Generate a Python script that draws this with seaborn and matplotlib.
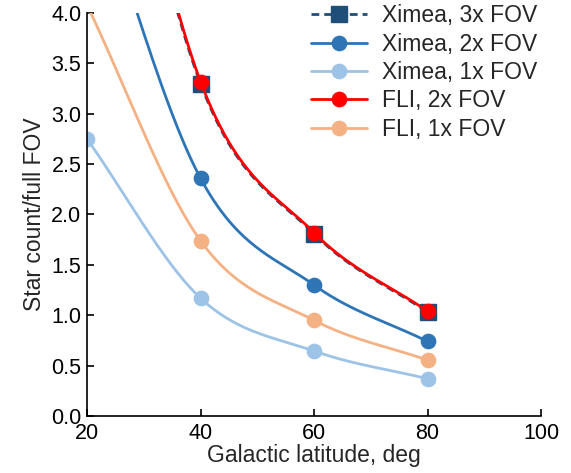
import numpy as np
import pandas as pd
import matplotlib
matplotlib.use("Agg")
import matplotlib.pyplot as plt
from matplotlib.lines import Line2D
from matplotlib.ticker import FormatStrFormatter
import seaborn as sns

# Data
latitude = [20, 40, 60, 80]
ximea_3x = [7.75, 3.30, 1.81, 1.03]
ximea_2x = [5.50, 2.36, 1.30, 0.74]
ximea_1x = [2.75, 1.17, 0.645, 0.37]
fli_2x = [7.80, 3.32, 1.82, 1.04]
fli_1x = [4.08, 1.74, 0.95, 0.555]

labels = ["Ximea, 3x FOV", "Ximea, 2x FOV", "Ximea, 1x FOV", "FLI, 2x FOV", "FLI, 1x FOV"]
series = [ximea_3x, ximea_2x, ximea_1x, fli_2x, fli_1x]
colors = ["#1f4e79", "#2e75b6", "#9dc3e6", "#ff0000", "#f4b183"]
markers = ["s", "o", "o", "o", "o"]
msizes = [11.3, 10.3, 10.3, 10.3, 10.3]
dashes = [(2.8, 1.8), None, None, None, None]


def smooth_curve(x, y, n=60):
    x = np.asarray(x, float)
    y = np.asarray(y, float)
    m = np.zeros_like(y)
    m[0] = (y[1] - y[0]) / (x[1] - x[0])
    m[-1] = (y[-1] - y[-2]) / (x[-1] - x[-2])
    for i in range(1, len(x) - 1):
        m[i] = (y[i + 1] - y[i - 1]) / (x[i + 1] - x[i - 1])
    xs, ys = [], []
    for i in range(len(x) - 1):
        h = x[i + 1] - x[i]
        t = np.linspace(0, 1, n, endpoint=(i == len(x) - 2))
        h00 = (1 + 2 * t) * (1 - t) ** 2
        h10 = t * (1 - t) ** 2
        h01 = t ** 2 * (3 - 2 * t)
        h11 = t ** 2 * (t - 1)
        xs.append(x[i] + t * h)
        ys.append(h00 * y[i] + h10 * h * m[i] + h01 * y[i + 1] + h11 * h * m[i + 1])
    return np.concatenate(xs), np.concatenate(ys)


sns.set_style("ticks")
plt.rcParams["font.family"] = ["Liberation Sans", "DejaVu Sans"]

fig = plt.figure(figsize=(5.71, 4.73), dpi=100)
ax = fig.add_axes([87 / 571, 1 - 416 / 473, (541 - 87) / 571, (416 - 13) / 473])

LW = 2.0
handles = []
for lab, ys, c, mk, ms, ds in zip(labels, series, colors, markers, msizes, dashes):
    sx, sy = smooth_curve(latitude, ys)
    df = pd.DataFrame({"x": sx, "y": sy})
    sns.lineplot(data=df, x="x", y="y", ax=ax, color=c, linewidth=LW,
                 sort=False, estimator=None, legend=False)
    line = ax.lines[-1]
    if ds is not None:
        line.set_dashes(ds)
    ax.plot(latitude, ys, linestyle="none", marker=mk, markersize=ms, color=c,
            markeredgecolor=c)
    h = Line2D([0], [0], color=c, linewidth=LW, marker=mk,
               markersize=ms, markeredgecolor=c, label=lab)
    if ds is not None:
        h.set_dashes(ds)
    handles.append(h)

ax.set_xlim(20, 100)
ax.set_ylim(0, 4)
ax.set_xticks([20, 40, 60, 80, 100])
ax.set_yticks(np.arange(0, 4.01, 0.5))
ax.yaxis.set_major_formatter(FormatStrFormatter("%.1f"))
ax.tick_params(direction="in", length=5, width=1.2, labelsize=15.5, colors="black")
ax.tick_params(axis="x", pad=5)
ax.tick_params(axis="y", pad=4)
for s in ["top", "right"]:
    ax.spines[s].set_visible(False)
for s in ["left", "bottom"]:
    ax.spines[s].set_color("black")
    ax.spines[s].set_linewidth(1.2)
ax.set_xlabel("Galactic latitude, deg", fontsize=16.5, labelpad=0)
ax.set_ylabel("Star count/full FOV", fontsize=16.5, labelpad=4)

ax.legend(handles=handles, loc="upper left", bbox_to_anchor=(311 / 571, 1 - 4.5 / 473),
          bbox_transform=fig.transFigure, frameon=False, borderpad=0, borderaxespad=0,
          fontsize=16.5, handlelength=2.45, labelspacing=0.23, handletextpad=0.64)

fig.savefig("out.png", dpi=100)
